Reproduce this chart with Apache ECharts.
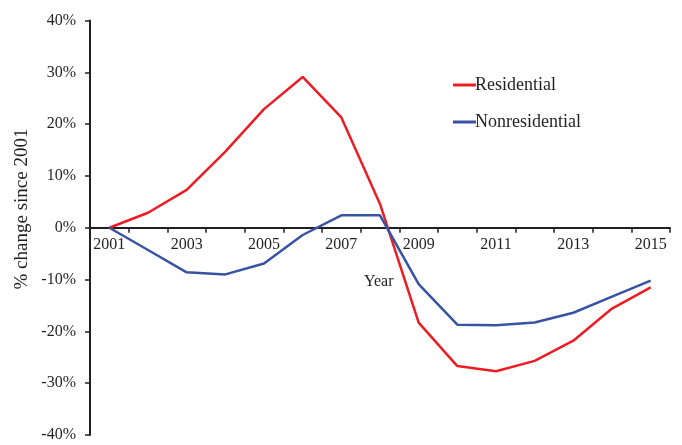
<!DOCTYPE html>
<html>
<head>
<meta charset="utf-8">
<script src="https://cdn.jsdelivr.net/npm/echarts@6/dist/echarts.min.js"></script>
<style>html,body{margin:0;padding:0;background:#fff;}#chart{width:682px;height:445px;}</style>
</head>
<body>
<div id="chart"></div>
<script>
const years = ['2001','2002','2003','2004','2005','2006','2007','2008','2009','2010','2011','2012','2013','2014','2015'];
const residential = [0, 2.9, 7.3, 14.7, 22.9, 29.1, 21.3, 4.6, -18.3, -26.7, -27.7, -25.7, -21.8, -15.6, -11.5];
const nonresidential = [0, -4.3, -8.6, -9.0, -6.9, -1.4, 2.4, 2.4, -10.9, -18.7, -18.8, -18.3, -16.4, -13.3, -10.2];
const yTicks = { min: -40, max: 40, interval: 10 };

const serif = '"Liberation Serif", "Times New Roman", serif';
const gridTop = 20.5, gridBottom = 10, H = 445;
const plotH = H - gridTop - gridBottom;
const zeroOffset = -plotH * (0 - yTicks.min) / (yTicks.max - yTicks.min);

const chart = echarts.init(document.getElementById('chart'));
chart.setOption({
  animation: false,
  grid: { left: 90, right: 12, top: gridTop, bottom: gridBottom, containLabel: false },
  legend: {
    orient: 'vertical', left: 448, top: 71, itemGap: 19,
    icon: 'rect', itemWidth: 23, itemHeight: 3,
    textStyle: { fontFamily: serif, fontSize: 18, color: '#231f20', padding: [0, 0, 0, -6] },
    data: ['Residential', 'Nonresidential']
  },
  xAxis: {
    type: 'category', data: years, boundaryGap: true, position: 'bottom', offset: zeroOffset,
    axisLine: { onZero: false, lineStyle: { color: '#231f20', width: 2 } },
    axisTick: { show: true, interval: 0, length: 5, lineStyle: { color: '#231f20', width: 1.5 } },
    axisLabel: { interval: 1, margin: 9, fontFamily: serif, fontSize: 16, color: '#231f20' },
    splitLine: { show: false }
  },
  yAxis: {
    type: 'value', min: yTicks.min, max: yTicks.max, interval: yTicks.interval,
    axisLine: { show: true, onZero: false, lineStyle: { color: '#231f20', width: 2 } },
    axisTick: { show: true, length: 5, lineStyle: { color: '#231f20', width: 1.5 } },
    axisLabel: { formatter: '{value}%', margin: 14, fontFamily: serif, fontSize: 16, color: '#231f20' },
    splitLine: { show: false }
  },
  graphic: [
    { type: 'text', left: 364, top: 274, style: { text: 'Year', font: '16px ' + serif, fill: '#231f20' } },
    { type: 'text', x: 22, y: 209, rotation: Math.PI / 2,
      style: { text: '% change since 2001', font: '19px ' + serif, fill: '#231f20', align: 'center', verticalAlign: 'middle' } }
  ],
  series: [
    { name: 'Residential', type: 'line', data: residential, symbol: 'none',
      lineStyle: { color: '#ed1c24', width: 2.5 }, itemStyle: { color: '#ed1c24' } },
    { name: 'Nonresidential', type: 'line', data: nonresidential, symbol: 'none',
      lineStyle: { color: '#3953a4', width: 2.5 }, itemStyle: { color: '#3953a4' } }
  ]
});
</script>
</body>
</html>
